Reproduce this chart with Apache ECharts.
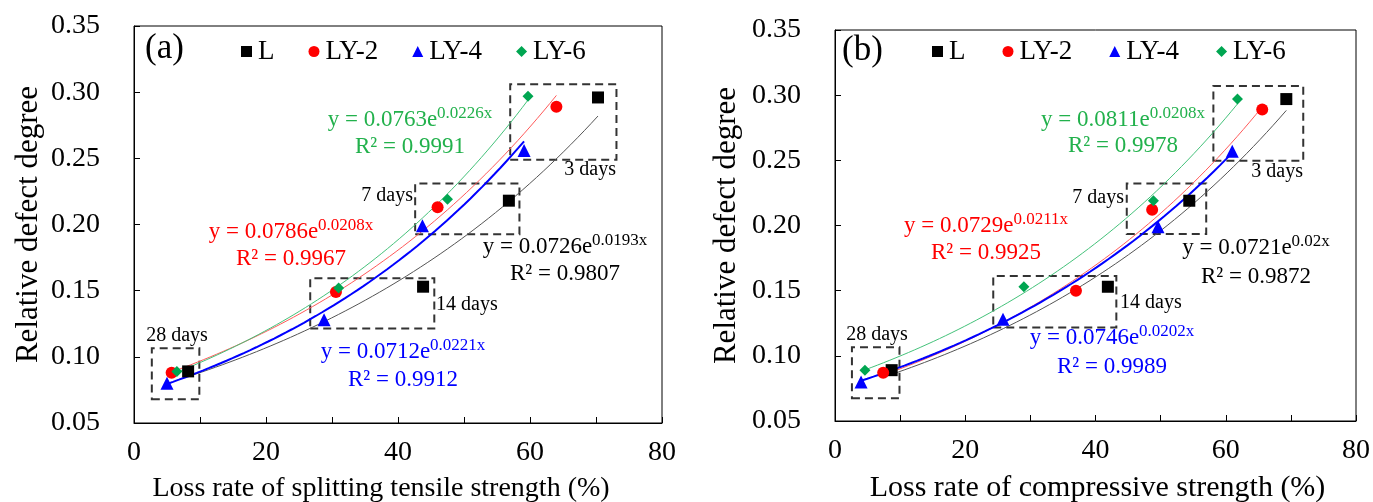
<!DOCTYPE html>
<html><head><meta charset="utf-8">
<script src="https://cdn.jsdelivr.net/npm/echarts@6/dist/echarts.min.js"></script>
<style>html,body{margin:0;padding:0;background:#fff}#c{width:1373px;height:502px}</style>
</head><body><div id="c"></div>
<script>
// ---------------- DATA ----------------
const seriesNames = ['L', 'LY-2', 'LY-4', 'LY-6'];
const ageLabels = ['28 days', '14 days', '7 days', '3 days'];
const xTickLabels = ['0', '20', '40', '60', '80'];
const yTickLabels = ['0.05', '0.10', '0.15', '0.20', '0.25', '0.30', '0.35'];

// Panel (a): loss rate of splitting tensile strength (%)
const aL_x   = [8.2, 43.8, 56.8, 70.3];
const aL_y   = [0.089, 0.153, 0.218, 0.296];
const aLY2_x = [5.7, 30.6, 46.0, 64.0];
const aLY2_y = [0.088, 0.149, 0.213, 0.289];
const aLY4_x = [5.0, 28.8, 43.7, 59.1];
const aLY4_y = [0.080, 0.128, 0.199, 0.256];
const aLY6_x = [6.5, 31.0, 47.5, 59.7];
const aLY6_y = [0.089, 0.152, 0.219, 0.297];
const aFitA  = ['0.0726', '0.0786', '0.0712', '0.0763'];
const aFitB  = ['0.0193', '0.0208', '0.0221', '0.0226'];
const aR2    = ['0.9807', '0.9967', '0.9912', '0.9991'];

// Panel (b): loss rate of compressive strength (%)
const bL_x   = [8.7, 41.9, 54.4, 69.3];
const bL_y   = [0.089, 0.153, 0.219, 0.297];
const bLY2_x = [7.4, 37.0, 48.7, 65.6];
const bLY2_y = [0.087, 0.150, 0.212, 0.289];
const bLY4_x = [4.0, 25.8, 49.6, 61.0];
const bLY4_y = [0.080, 0.128, 0.199, 0.257];
const bLY6_x = [4.6, 29.0, 48.9, 61.8];
const bLY6_y = [0.089, 0.153, 0.219, 0.297];
const bFitA  = ['0.0721', '0.0729', '0.0746', '0.0811'];
const bFitB  = ['0.02', '0.0211', '0.0202', '0.0208'];
const bR2    = ['0.9872', '0.9925', '0.9989', '0.9978'];

// ---------------- STYLE / LAYOUT ----------------
const F = 'Liberation Serif';
const markerColors = ['#000000', '#ff0000', '#0000ff', '#00a651'];
const lineColors   = ['#555555', '#ff5a5a', '#0000ff', '#44c27a'];
const lineWidths   = [1, 1, 2, 1];
const textColors   = ['#000000', '#ff0000', '#0000ff', '#22b14c'];
const symbols      = ['rect', 'circle', 'triangle', 'diamond'];
const symbolSizes  = [12, 12, 13, 11];

// dashed group boxes (data coords: x1, x2, y1, y2)
const aBoxes = [[2.7, 9.9, 0.068, 0.1064], [26.7, 45.5, 0.1215, 0.1593], [42.6, 58.4, 0.1927, 0.231], [57.0, 73.1, 0.249, 0.306]];
const bBoxes = [[2.6, 9.9, 0.0674, 0.1065], [24.3, 43.2, 0.1218, 0.1612], [44.8, 57.0, 0.1934, 0.2323], [58.1, 71.9, 0.2496, 0.307]];

const panels = [
  { xs: [aL_x, aLY2_x, aLY4_x, aLY6_x], ys: [aL_y, aLY2_y, aLY4_y, aLY6_y], A: aFitA, B: aFitB, R2: aR2, boxes: aBoxes,
    grid: { left: 134, top: 26, width: 528, height: 397 }, xName: 'Loss rate of splitting tensile strength (%)', tag: '(a)',
    xNameSize: 28, xNamePad: [0, 34, 0, 0], tagPos: [145, 49], legendLeft: 241, legendGap: 34,
    eqPos: [[565, 247, 274], [291, 232, 259], [403, 352, 380], [410, 120, 147]],
    agePos: [[177, 336, 'center'], [436, 305, 'left'], [413, 196, 'right'], [616, 170, 'right']] },
  { xs: [bL_x, bLY2_x, bLY4_x, bLY6_x], ys: [bL_y, bLY2_y, bLY4_y, bLY6_y], A: bFitA, B: bFitB, R2: bR2, boxes: bBoxes,
    grid: { left: 835, top: 30, width: 521, height: 391 }, xName: 'Loss rate of compressive strength (%)', tag: '(b)',
    xNameSize: 30, xNamePad: [0, 0, 0, 4], tagPos: [842, 51], legendLeft: 932, legendGap: 37,
    eqPos: [[1256, 248, 277], [986, 226, 253], [1112, 338, 367], [1123, 120, 146]],
    agePos: [[877, 335, 'center'], [1120, 303, 'left'], [1124, 198, 'right'], [1303, 172, 'right']] }
];

function txt(x, y, text, color, size, align, extra) {
  const style = Object.assign({ text: text, fill: color, fontSize: size, fontFamily: F,
    align: align, verticalAlign: 'middle', textAlign: align, textVerticalAlign: 'middle' }, extra || {});
  return { type: 'text', x: x, y: y, z: 100, silent: true, style: style };
}

const grids = [], xAxes = [], yAxes = [], series = [], legends = [], graphics = [];

panels.forEach((p, pi) => {
  grids.push(Object.assign({ show: true, borderColor: '#000', borderWidth: 1, backgroundColor: 'transparent',
    containLabel: false, outerBoundsMode: 'none' }, p.grid));
  xAxes.push({
    type: 'value', gridIndex: pi, min: 0, max: 80, interval: 10,
    axisLine: { show: true, onZero: false, lineStyle: { color: '#000', width: 1 } },
    axisTick: { show: true, inside: true, length: 6, lineStyle: { color: '#000' } },
    splitLine: { show: false },
    axisLabel: { fontFamily: F, fontSize: 28, color: '#000', margin: 16,
      formatter: v => { const i = xTickLabels.indexOf(String(Math.round(v))); return (Math.round(v) % 20 === 0 && i >= 0) ? xTickLabels[i] : ''; } },
    name: p.xName, nameLocation: 'middle', nameGap: 52,
    nameTextStyle: { fontFamily: F, fontSize: p.xNameSize, color: '#000', padding: p.xNamePad }
  });
  yAxes.push({
    type: 'value', gridIndex: pi, min: 0.05, max: 0.35, interval: 0.05,
    axisLine: { show: true, onZero: false, lineStyle: { color: '#000', width: 1 } },
    axisTick: { show: true, inside: true, length: 6, lineStyle: { color: '#000' } },
    splitLine: { show: false },
    axisLabel: { fontFamily: F, fontSize: 28, color: '#000', margin: 34,
      formatter: v => yTickLabels[Math.round((v - 0.05) / 0.05)] },
    name: 'Relative defect degree', nameLocation: 'middle', nameGap: pi === 0 ? 90 : 93,
    nameTextStyle: { fontFamily: F, fontSize: 31, color: '#000' }
  });

  // fitted exponential trend lines (from the printed equations)
  seriesNames.forEach((nm, si) => {
    const xs = p.xs[si];
    const x0 = Math.min.apply(null, xs), x1 = Math.max.apply(null, xs);
    const a = parseFloat(p.A[si]), b = parseFloat(p.B[si]);
    const pts = [];
    for (let k = 0; k <= 60; k++) { const x = x0 + (x1 - x0) * k / 60; pts.push([x, a * Math.exp(b * x)]); }
    series.push({ type: 'line', name: nm + ' fit ' + pi, xAxisIndex: pi, yAxisIndex: pi, data: pts,
      showSymbol: false, symbol: 'none', silent: true, z: 2,
      lineStyle: { color: lineColors[si], width: lineWidths[si] }, itemStyle: { color: lineColors[si] } });
  });
  // scatter markers
  seriesNames.forEach((nm, si) => {
    const s = { type: 'scatter', name: nm, xAxisIndex: pi, yAxisIndex: pi, z: 5,
      data: p.xs[si].map((x, k) => [x, p.ys[si][k]]),
      symbol: symbols[si], symbolSize: symbolSizes[si], itemStyle: { color: markerColors[si], opacity: 1 } };
    if (si === 0) {
      s.markArea = { silent: true, z: 1,
        itemStyle: { color: 'rgba(0,0,0,0)', borderColor: '#333', borderWidth: 2, borderType: [8, 5] },
        label: { show: false },
        data: p.boxes.map(bx => [{ xAxis: bx[0], yAxis: bx[2] }, { xAxis: bx[1], yAxis: bx[3] }]) };
    }
    series.push(s);
  });

  legends.push({ data: seriesNames, left: p.legendLeft, top: 38, itemWidth: 11, itemHeight: 11, itemGap: p.legendGap,
    padding: 0, selectedMode: false, textStyle: { fontFamily: F, fontSize: 27, color: '#000', padding: [0, 0, 0, 1] } });

  graphics.push(txt(p.tagPos[0], p.tagPos[1], p.tag, '#000', 35, 'left'));
  // equations
  p.eqPos.forEach((e, si) => {
    const c = textColors[si];
    graphics.push(txt(e[0], e[1], '{m|y = ' + p.A[si] + 'e}{s|' + p.B[si] + 'x}', c, 23, 'center', {
      rich: { m: { fontSize: 23, fontFamily: F, fill: c, color: c },
              s: { fontSize: 17, fontFamily: F, fill: c, color: c, padding: [0, 0, 13, 0] } } }));
    graphics.push(txt(e[0], e[2], 'R\u00b2 = ' + p.R2[si], c, 23, 'center'));
  });
  // age labels
  p.agePos.forEach((a, k) => graphics.push(txt(a[0], a[1], ageLabels[k], '#000', 20, a[2])));
});

const chart = echarts.init(document.getElementById('c'), null, { renderer: 'canvas' });
chart.setOption({
  backgroundColor: '#fff', animation: false,
  grid: grids, xAxis: xAxes, yAxis: yAxes, legend: legends, series: series, graphic: graphics
});
</script></body></html>
